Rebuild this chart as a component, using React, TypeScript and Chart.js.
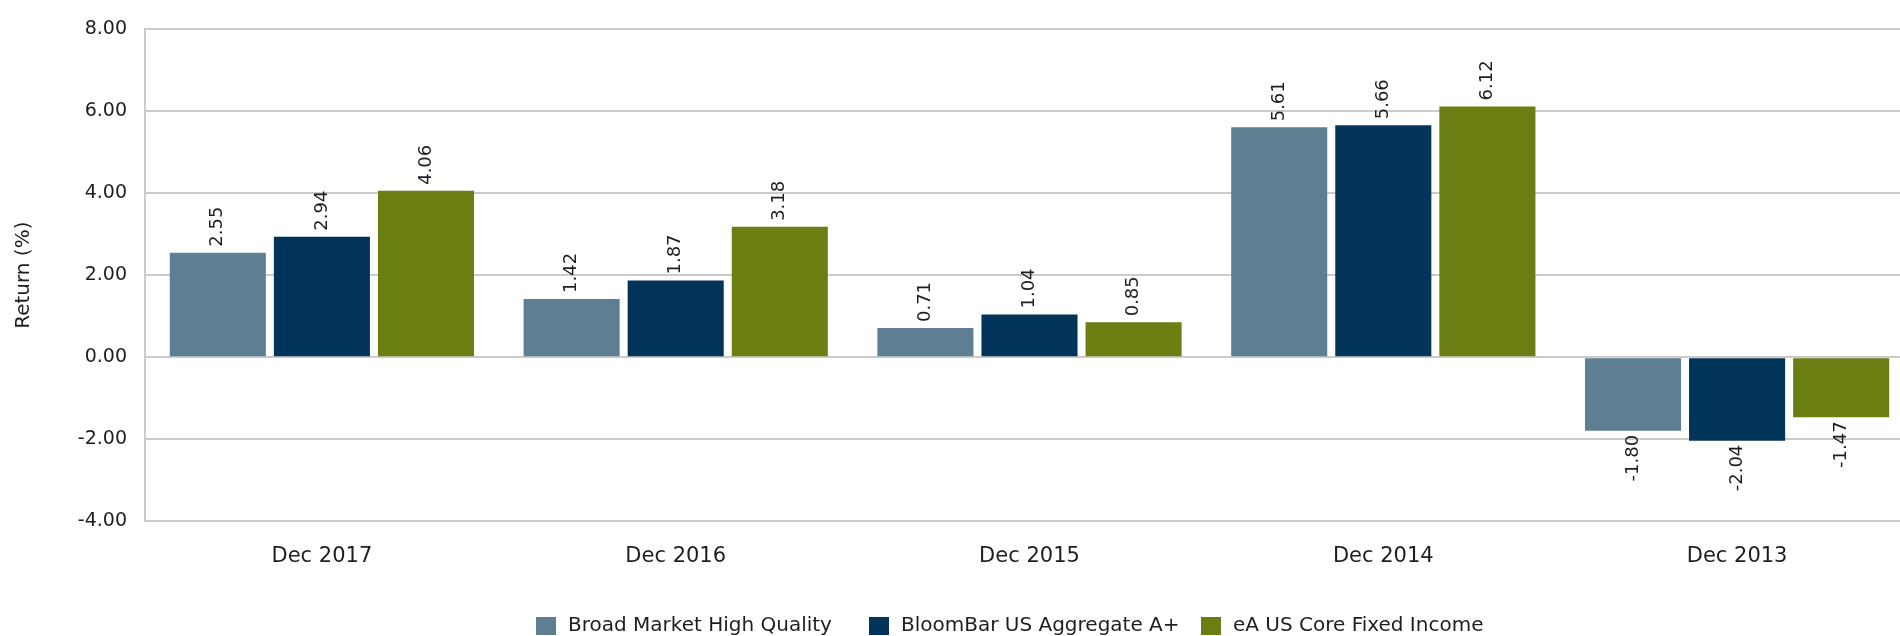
import React, { useEffect, useRef } from "react";
import { Chart, registerables } from "chart.js";

Chart.register(...registerables);

const categories = ["Dec 2017", "Dec 2016", "Dec 2015", "Dec 2014", "Dec 2013"];
const broadMarket = [2.55, 1.42, 0.71, 5.61, -1.8];
const bloomBar = [2.94, 1.87, 1.04, 5.66, -2.04];
const eaCore = [4.06, 3.18, 0.85, 6.12, -1.47];
const seriesNames = ["Broad Market High Quality", "BloomBar US Aggregate A+", "eA US Core Fixed Income"];
const seriesColors = ["#5E7F92", "#023459", "#6B7E12"];
const yMin = -4;
const yMax = 8;
const yStep = 2;
const yTitle = "Return (%)";

const FONT = "'DejaVu Sans', sans-serif";
const TEXT = "#1e1e1e";
const GRID = "#cbcbcb";

const dataLabelPlugin = {
  id: "dataLabelPlugin",
  afterDatasetsDraw(chart: any) {
    const ctx = chart.ctx;
    ctx.save();
    ctx.font = `18px ${FONT}`;
    ctx.fillStyle = TEXT;
    ctx.textBaseline = "middle";
    chart.data.datasets.forEach((ds: any, di: number) => {
      const meta = chart.getDatasetMeta(di);
      meta.data.forEach((el: any, i: number) => {
        const v = ds.data[i];
        const label = v.toFixed(2);
        ctx.save();
        if (v >= 0) {
          ctx.translate(el.x, el.y - 6);
          ctx.rotate(-Math.PI / 2);
          ctx.textAlign = "left";
        } else {
          ctx.translate(el.x, el.y + 4);
          ctx.rotate(-Math.PI / 2);
          ctx.textAlign = "right";
        }
        ctx.fillText(label, 0, 0);
        ctx.restore();
      });
    });
    ctx.restore();
  },
};

const extrasPlugin = {
  id: "extrasPlugin",
  afterDraw(chart: any) {
    const ctx = chart.ctx;
    const area = chart.chartArea;
    ctx.save();
    // y axis title
    ctx.font = `20px ${FONT}`;
    ctx.fillStyle = TEXT;
    ctx.translate(24, (area.top + area.bottom) / 2);
    ctx.rotate(-Math.PI / 2);
    ctx.textAlign = "center";
    ctx.textBaseline = "middle";
    ctx.fillText(yTitle, 0, 0);
    ctx.restore();

    // legend
    const starts = [536, 869, 1201];
    ctx.save();
    ctx.font = `20px ${FONT}`;
    ctx.textBaseline = "middle";
    ctx.textAlign = "left";
    chart.data.datasets.forEach((ds: any, i: number) => {
      const x = starts[i];
      ctx.fillStyle = ds.backgroundColor;
      ctx.fillRect(x, 617, 20, 18);
      ctx.fillStyle = TEXT;
      ctx.fillText(ds.label, x + 32, 626);
    });
    ctx.restore();
  },
};

export default function App() {
  const ref = useRef<HTMLCanvasElement | null>(null);
  useEffect(() => {
    if (!ref.current) return;
    const seriesData = [broadMarket, bloomBar, eaCore];
    const chart = new Chart(ref.current, {
      type: "bar",
      data: {
        labels: categories,
        datasets: seriesData.map((d, i) => ({
          label: seriesNames[i],
          data: d,
          backgroundColor: seriesColors[i],
          categoryPercentage: 0.8826,
          barPercentage: 0.923,
        })),
      },
      options: {
        responsive: false,
        animation: false,
        devicePixelRatio: 1,
        layout: { padding: { top: 23, left: 0, right: 0, bottom: 0 } },
        plugins: {
          legend: { display: false },
          tooltip: { enabled: false },
        },
        scales: {
          x: {
            grid: { display: false, drawTicks: false },
            border: { display: false },
            ticks: { color: TEXT, font: { family: FONT, size: 21 }, padding: 23 },
            afterFit: (s: any) => {
              s.height = 115;
            },
          },
          y: {
            min: yMin,
            max: yMax,
            ticks: {
              stepSize: yStep,
              color: TEXT,
              font: { family: FONT, size: 19 },
              padding: 18,
              callback: (v: any) => Number(v).toFixed(2),
            },
            grid: { color: GRID, lineWidth: 2, drawTicks: false },
            border: { display: true, color: GRID, width: 2 },
            afterFit: (s: any) => {
              s.width = 145;
            },
          },
        },
      },
      plugins: [dataLabelPlugin, extrasPlugin],
    });
    return () => chart.destroy();
  }, []);
  return (
    <div style={{ position: "fixed", left: 0, top: 0, width: 1900, height: 636, overflow: "hidden", background: "#fff" }}>
      <canvas ref={ref} width={1914} height={636} style={{ display: "block" }} />
    </div>
  );
}
